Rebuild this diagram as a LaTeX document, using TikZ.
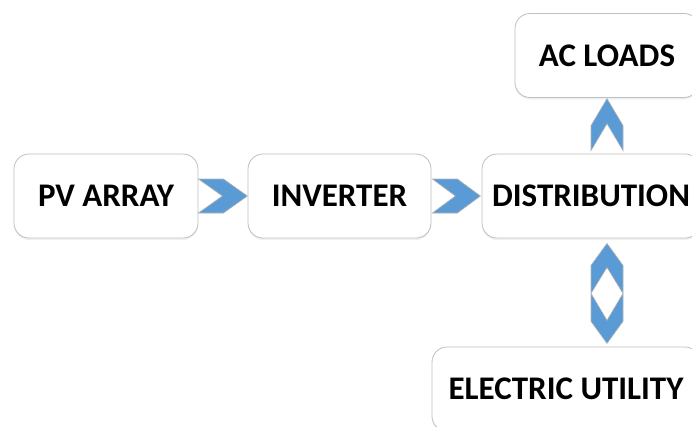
\documentclass[tikz,border=0pt]{standalone}
\usepackage{fontspec}
\setmainfont{Carlito}
\usetikzlibrary{shadows}
\definecolor{chevblue}{HTML}{5B9BD5}

\begin{document}
\begin{tikzpicture}[x=1pt, y=-1pt,
    box/.style = {draw=black!25, line width=0.8pt, rounded corners=15pt, fill=white,
        minimum height=84pt, inner sep=0pt, font=\bfseries\fontsize{33}{40}\selectfont,
        drop shadow={shadow xshift=0pt, shadow yshift=-2pt, opacity=0.12, fill=chevblue!60!gray}},
    chev/.style = {fill=chevblue, draw=black!30, line width=0.6pt, line join=miter}]
    \useasboundingbox (0,0) rectangle (692,426);
    \clip (0,0) rectangle (692,426);
    \node[box, minimum width=184pt] (Bpv) at (106,196) {PV ARRAY};
    \node[box, minimum width=183pt] (Binv) at (339.5,196) {INVERTER};
    \node[box, minimum width=218pt] (Bdist) at (591,196) {DISTRIBUTION};
    \node[box, minimum width=184pt] (Bac) at (607,55.5) {AC LOADS};
    \node[box, minimum width=268pt] (Butil) at (566,389) {ELECTRIC UTILITY};

    \draw[chev] (Bpv.east) ++(0,-17) -- ++(25,0) -- ++(24,17) -- ++(-24,17) -- ++(-25,0) -- ++(24,-17) -- cycle;
    \draw[chev] (Binv.east) ++(1,-17) -- ++(25,0) -- ++(23,17) -- ++(-23,17) -- ++(-25,0) -- ++(23,-17) -- cycle;
    \draw[chev] (Bac.south |- Bdist.north) ++(-16,-3) -- ++(0,-25) -- ++(16,-27) -- ++(16,27) -- ++(0,25) -- ++(-16,-27) -- cycle;
    \draw[chev, even odd rule] (Bac.south |- Bdist.south) ++(0,5) -- ++(16,22) -- ++(0,56) -- ++(-16,22) -- ++(-16,-22) -- ++(0,-56) -- cycle
        (Bac.south |- Bdist.south) ++(0,29) -- ++(16,26) -- ++(-16,27) -- ++(-16,-27) -- cycle;
\end{tikzpicture}
\end{document}
